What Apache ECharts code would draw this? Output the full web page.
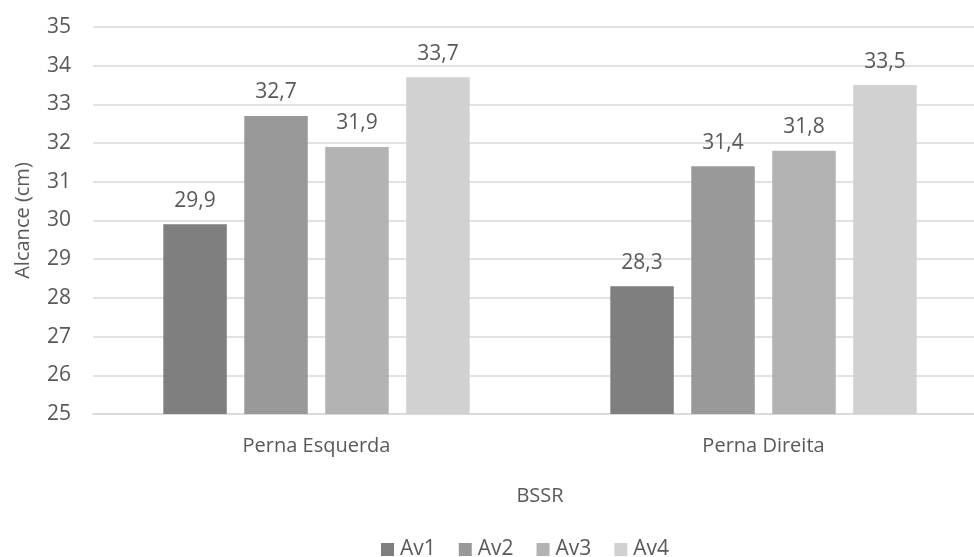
<!DOCTYPE html>
<html>
<head>
<meta charset="utf-8">
<script src="https://cdn.jsdelivr.net/npm/echarts@6/dist/echarts.min.js"></script>
<style>
  html, body { margin: 0; padding: 0; background: #ffffff; }
  #chart { width: 974px; height: 557px; }
</style>
</head>
<body>
<div id="chart"></div>
<script>
// Reach test (BSSR), mean reach per leg for each assessment
const categories = ['Perna Esquerda', 'Perna Direita'];
const seriesNames = ['Av1', 'Av2', 'Av3', 'Av4'];
const av1 = [29.9, 28.3];
const av2 = [32.7, 31.4];
const av3 = [31.9, 31.8];
const av4 = [33.7, 33.5];
const yTicks = { min: 25, max: 35, interval: 1 };

const values = [av1, av2, av3, av4];
const colors = ['#7f7f7f', '#999999', '#b3b3b3', '#d1d1d1'];
const textColor = '#595959';
const fontFamily = '"Open Sans", "Noto Sans", sans-serif';

const chart = echarts.init(document.getElementById('chart'));

const series = seriesNames.map((name, i) => ({
  name: name,
  type: 'bar',
  data: values[i],
  barWidth: 63.5,
  barGap: '27.5%',
  itemStyle: { color: colors[i] },
  label: {
    show: true,
    position: 'top',
    distance: 13,
    color: textColor,
    fontFamily: fontFamily,
    fontSize: 21,
    formatter: p => String(p.value).replace('.', ',')
  }
}));

chart.setOption({
  animation: false,
  backgroundColor: '#ffffff',
  textStyle: { fontFamily: fontFamily, color: textColor },
  // the plot runs slightly past the right edge of the canvas
  grid: { left: 93, right: -13, top: 27, bottom: 143, outerBoundsMode: 'none', containLabel: false },
  legend: {
    data: seriesNames,
    top: 534,
    left: 376,
    itemWidth: 13,
    itemHeight: 13,
    itemGap: 23,
    icon: 'rect',
    textStyle: { color: textColor, fontSize: 21, fontFamily: fontFamily, padding: [0, 0, 0, 1] }
  },
  xAxis: {
    type: 'category',
    data: categories,
    name: 'BSSR',
    nameLocation: 'middle',
    nameGap: 72,
    nameTextStyle: { color: textColor, fontSize: 20, fontFamily: fontFamily },
    axisLine: { lineStyle: { color: '#d9d9d9', width: 1.5 } },
    axisTick: { show: false },
    axisLabel: { color: textColor, fontSize: 20, margin: 22, fontFamily: fontFamily }
  },
  yAxis: {
    type: 'value',
    min: yTicks.min,
    max: yTicks.max,
    interval: yTicks.interval,
    name: 'Alcance (cm)',
    nameLocation: 'middle',
    nameGap: 60,
    nameTextStyle: { color: textColor, fontSize: 20, fontFamily: fontFamily },
    axisLine: { show: false },
    axisTick: { show: false },
    axisLabel: { color: textColor, fontSize: 21, margin: 22, fontFamily: fontFamily },
    splitLine: { lineStyle: { color: '#d9d9d9', width: 1.5 } }
  },
  series: series
});
</script>
</body>
</html>
